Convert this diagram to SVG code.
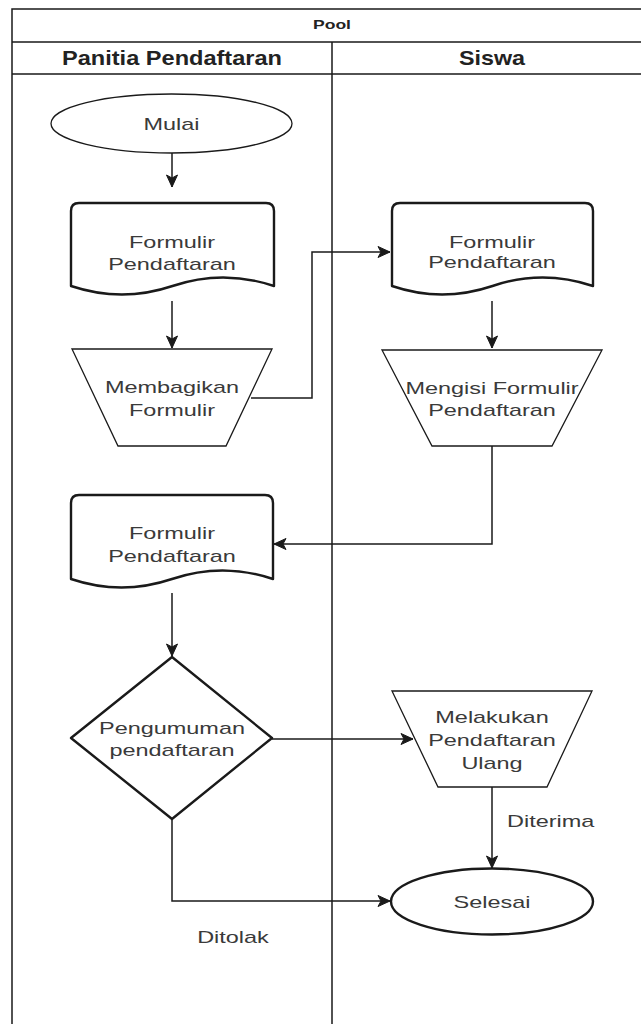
<svg xmlns="http://www.w3.org/2000/svg" width="641" height="1024" viewBox="0 0 641 1024">
<style>
  .frame{fill:none;stroke:#1a1a1a;stroke-width:1.5}
  .thin{fill:#fff;stroke:#1a1a1a;stroke-width:1.3}
  .thick{fill:#fff;stroke:#1a1a1a;stroke-width:2.4;stroke-linejoin:round}
  .conn{fill:none;stroke:#1a1a1a;stroke-width:1.5}
  .t{font-family:"Liberation Sans",Arial,sans-serif;font-size:17px;fill:#3a3a3a;text-anchor:middle}
  .lbl{font-family:"Liberation Sans",Arial,sans-serif;font-size:17px;fill:#3a3a3a}
  .hd{font-family:"Liberation Sans",Arial,sans-serif;font-weight:bold;fill:#222;text-anchor:middle}
</style>
<defs>
  <marker id="arr" markerUnits="userSpaceOnUse" markerWidth="14" markerHeight="14" viewBox="0 0 14 14" refX="13" refY="7" orient="auto">
    <path d="M1,1.5 L13,7 L1,12.5 L4,7 Z" fill="#1a1a1a" stroke="#1a1a1a" stroke-width="1" stroke-linejoin="miter"/>
  </marker>
</defs>
<rect width="641" height="1024" fill="#fff"/>

<g id="pool">
  <path class="frame" d="M12,1024 L12,9 L645,9"/>
  <path class="frame" d="M12,42 L645,42 M12,74 L645,74 M332,42 L332,1024"/>
  <text class="hd" x="332" y="28.5" font-size="13" textLength="38" lengthAdjust="spacingAndGlyphs">Pool</text>
  <text class="hd" x="172" y="65" font-size="21" textLength="220" lengthAdjust="spacingAndGlyphs">Panitia Pendaftaran</text>
  <text class="hd" x="492" y="65" font-size="21" textLength="66" lengthAdjust="spacingAndGlyphs">Siswa</text>
</g>

<g id="connectors">
  <path class="conn" d="M172,153 L172,187" marker-end="url(#arr)"/>
  <path class="conn" d="M172,301 L172,348" marker-end="url(#arr)"/>
  <path class="conn" d="M251,398 L312,398 L312,252 L390,252" marker-end="url(#arr)"/>
  <path class="conn" d="M492,301 L492,348" marker-end="url(#arr)"/>
  <path class="conn" d="M492,446 L492,544 L274,544" marker-end="url(#arr)"/>
  <path class="conn" d="M172,593 L172,656" marker-end="url(#arr)"/>
  <path class="conn" d="M272,739 L413,739" marker-end="url(#arr)"/>
  <path class="conn" d="M492,787 L492,868" marker-end="url(#arr)"/>
  <text class="lbl" transform="translate(507,827) scale(1.38,1)">Diterima</text>
  <path class="conn" d="M172,819 L172,901 L390,901" marker-end="url(#arr)"/>
  <text class="t" transform="translate(233,943) scale(1.38,1)">Ditolak</text>
</g>

<g id="mulai">
  <ellipse class="thin" cx="171.5" cy="123.5" rx="120.5" ry="29.5" stroke-width="1.1"/>
  <text class="t" transform="translate(171.5,129.5) scale(1.38,1)">Mulai</text>
</g>

<g id="formulir1">
  <path class="thick" d="M71,286 L71,211 Q71,203 79,203 L266,203 Q274,203 274,211 L274,286 Q223,269 172.5,286 Q122,303 71,286 Z"/>
  <text class="t" transform="translate(172,248) scale(1.38,1)">Formulir</text>
  <text class="t" transform="translate(172,270) scale(1.38,1)">Pendaftaran</text>
</g>

<g id="membagikan">
  <path class="thin" d="M72,349 L272,349 L226,446 L118,446 Z"/>
  <text class="t" transform="translate(172,393) scale(1.38,1)">Membagikan</text>
  <text class="t" transform="translate(172,416) scale(1.38,1)">Formulir</text>
</g>

<g id="formulir2">
  <path class="thick" d="M392,286 L392,211 Q392,203 400,203 L585,203 Q593,203 593,211 L593,286 Q542.5,269 492.5,286 Q442,303 392,286 Z"/>
  <text class="t" transform="translate(492,248) scale(1.38,1)">Formulir</text>
  <text class="t" transform="translate(492,268) scale(1.38,1)">Pendaftaran</text>
</g>

<g id="mengisi">
  <path class="thin" d="M382,350 L602,350 L552,446 L432,446 Z"/>
  <text class="t" transform="translate(492,394) scale(1.38,1)">Mengisi Formulir</text>
  <text class="t" transform="translate(492,416) scale(1.38,1)">Pendaftaran</text>
</g>

<g id="formulir3">
  <path class="thick" d="M71,579 L71,503 Q71,495 79,495 L265,495 Q273,495 273,503 L273,579 Q222.5,562 172,579 Q121.5,596 71,579 Z"/>
  <text class="t" transform="translate(172,539) scale(1.38,1)">Formulir</text>
  <text class="t" transform="translate(172,562) scale(1.38,1)">Pendaftaran</text>
</g>

<g id="pengumuman">
  <path class="thick" d="M172,657 L272,738 L172,819 L71,738 Z"/>
  <text class="t" transform="translate(172,734) scale(1.38,1)">Pengumuman</text>
  <text class="t" transform="translate(172,756) scale(1.38,1)">pendaftaran</text>
</g>

<g id="melakukan">
  <path class="thin" d="M392,691 L592,691 L547,787 L438,787 Z"/>
  <text class="t" transform="translate(492,723) scale(1.38,1)">Melakukan</text>
  <text class="t" transform="translate(492,746) scale(1.38,1)">Pendaftaran</text>
  <text class="t" transform="translate(492,769) scale(1.38,1)">Ulang</text>
</g>

<g id="selesai">
  <ellipse class="thick" cx="492" cy="901.5" rx="101" ry="33" stroke-width="2.6"/>
  <text class="t" transform="translate(492,908) scale(1.38,1)">Selesai</text>
</g>
</svg>
